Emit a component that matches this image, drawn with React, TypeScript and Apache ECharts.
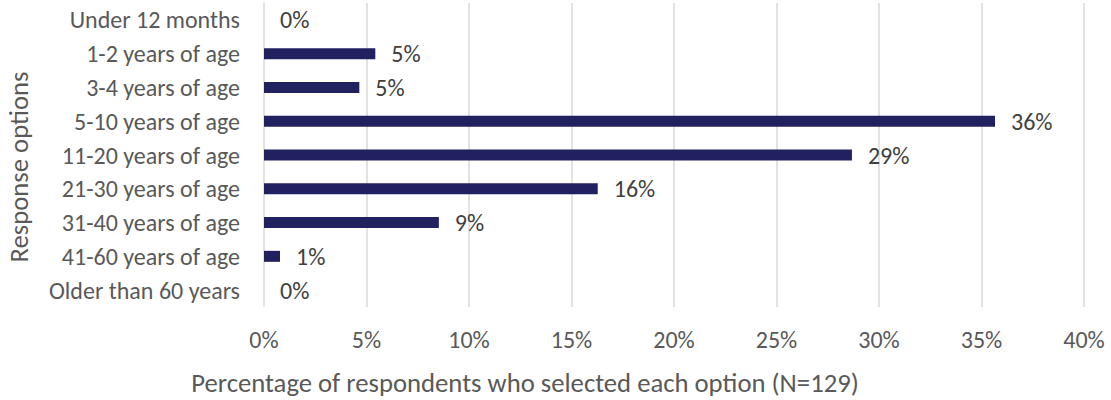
import React, { useEffect, useRef } from "react";
import * as echarts from "echarts";

const categories = [
  "Under 12 months",
  "1-2 years of age",
  "3-4 years of age",
  "5-10 years of age",
  "11-20 years of age",
  "21-30 years of age",
  "31-40 years of age",
  "41-60 years of age",
  "Older than 60 years",
];
const values = [0, 5.43, 4.65, 35.66, 28.68, 16.28, 8.53, 0.78, 0];
const xTitle = "Percentage of respondents who selected each option (N=129)";
const yTitle = "Response options";

const FONT = "Calibri, Carlito, 'Open Sans', sans-serif";

export default function App() {
  const ref = useRef<HTMLDivElement>(null);
  useEffect(() => {
    if (!ref.current) return;
    const chart = echarts.init(ref.current, undefined, { renderer: "svg" });
    chart.setOption({
      animation: false,
      backgroundColor: "#ffffff",
      textStyle: { fontFamily: FONT },
      grid: { left: 264, right: 27, top: 3, bottom: 93 },
      xAxis: {
        type: "value",
        min: 0,
        max: 40,
        interval: 5,
        axisLine: { show: false },
        axisTick: { show: false },
        splitLine: { show: true, lineStyle: { color: "#D9D9D9", width: 1.5 } },
        axisLabel: {
          formatter: "{value}%",
          color: "#595959",
          fontSize: 24,
          fontFamily: FONT,
          margin: 20,
        },
      },
      yAxis: {
        type: "category",
        data: categories,
        inverse: true,
        axisLine: { show: false },
        axisTick: { show: false },
        splitLine: { show: false },
        axisLabel: {
          color: "#595959",
          fontSize: 24,
          fontFamily: FONT,
          margin: 24,
        },
      },
      graphic: [
        {
          type: "text",
          x: 525,
          y: 383,
          style: {
            text: xTitle,
            fill: "#595959",
            fontSize: 26.7,
            fontFamily: FONT,
            align: "center",
            verticalAlign: "middle",
          },
        },
        {
          type: "text",
          x: 19,
          y: 167,
          rotation: Math.PI / 2,
          style: {
            text: yTitle,
            fill: "#595959",
            fontSize: 26.7,
            fontFamily: FONT,
            align: "center",
            verticalAlign: "middle",
          },
        },
      ],
      series: [
        {
          type: "bar",
          data: values,
          barWidth: 11,
          itemStyle: { color: "#22215F" },
          label: {
            show: true,
            position: "right",
            distance: 16,
            color: "#404040",
            fontSize: 24,
            fontFamily: FONT,
            formatter: (p: any) => Math.round(p.value) + "%",
          },
        },
      ],
    });
    return () => chart.dispose();
  }, []);
  return (
    <div
      ref={ref}
      style={{ position: "absolute", left: 0, top: 0, width: 1111, height: 400 }}
    />
  );
}
